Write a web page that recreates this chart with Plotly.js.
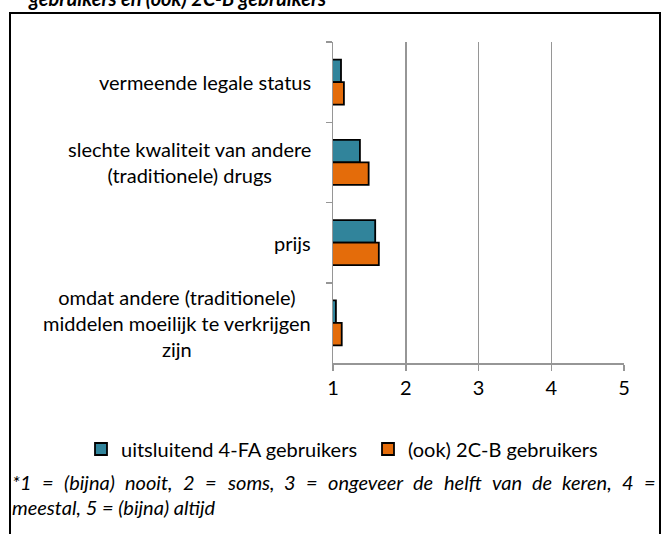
<!DOCTYPE html>
<html>
<head>
<meta charset="utf-8">
<script src="https://cdn.plot.ly/plotly-3.0.1.min.js"></script>
<style>html,body{margin:0;padding:0;background:#fff;}#chart{width:666px;height:534px;}</style>
</head>
<body>
<div id="chart"></div>
<script>
// Data
var categories = [
  "vermeende legale status",
  "slechte kwaliteit van andere<br>(traditionele) drugs",
  "prijs",
  "omdat andere (traditionele)<br>middelen moeilijk te verkrijgen<br>zijn"
];
var seriesNames = ["uitsluitend 4-FA gebruikers", "(ook) 2C-B gebruikers"];
var only4FA = [1.11, 1.37, 1.58, 1.04];
var also2CB = [1.15, 1.49, 1.63, 1.12];
var xTickVals = [1, 2, 3, 4, 5];
var xTickText = ["1", "2", "3", "4", "5"];
var pageTitle = "gebruikers en (ook) 2C-B gebruikers";
var footLine1 = "*1 = (bijna) nooit, 2 = soms, 3 = ongeveer de helft van de keren, 4 =";
var footLine2 = "meestal, 5 = (bijna) altijd";

// Layout geometry (pixels)
var W = 666, H = 534;
var L = 333, R = 624, T = 42, B = 363;
function px(x) { return (x - L) / (R - L); }
function py(y) { return (B - y) / (B - T); }

var FONT = "Lato, 'Open Sans', sans-serif";
var FS = 20;
var GRID = "#969696";

var traces = [
  {
    type: "bar", orientation: "h", name: seriesNames[0],
    y: categories, x: only4FA,
    marker: { color: "#31849B", line: { color: "#000", width: 1.8 } },
    hoverinfo: "x"
  },
  {
    type: "bar", orientation: "h", name: seriesNames[1],
    y: categories, x: also2CB,
    marker: { color: "#E46C0A", line: { color: "#000", width: 1.8 } },
    hoverinfo: "x"
  }
];

var annotations = categories.map(function (c) {
  return {
    text: c, xref: "paper", yref: "y", x: px(313), y: c,
    xanchor: "right", yanchor: "middle", align: "center", showarrow: false,
    font: { family: FONT, size: FS, color: "#000" }
  };
});
annotations.push({
  text: "<b><i>" + pageTitle + "</i></b>", xref: "paper", yref: "paper",
  x: px(26), y: py(12), xanchor: "left", yanchor: "bottom", showarrow: false,
  font: { family: FONT, size: FS, color: "#000" }
});

// Justified footnote line 1: measure words, spread them across the box width
var ctx = document.createElement("canvas").getContext("2d");
ctx.font = "italic " + FS + "px Lato";
var words = footLine1.split(" ");
var widths = words.map(function (w) { return ctx.measureText(w).width; });
var sumW = widths.reduce(function (a, b) { return a + b; }, 0);
var left = 11, right = 655;
var gap = (right - left - sumW) / (words.length - 1);
var cx = left;
words.forEach(function (w, i) {
  annotations.push({
    text: "<i>" + w + "</i>", xref: "paper", yref: "paper",
    x: px(cx), y: py(482), xanchor: "left", yanchor: "middle", showarrow: false,
    font: { family: FONT, size: FS, color: "#000" }, borderpad: 0
  });
  cx += widths[i] + gap;
});
annotations.push({
  text: "<i>" + footLine2 + "</i>", xref: "paper", yref: "paper",
  x: px(11), y: py(507), xanchor: "left", yanchor: "middle", showarrow: false,
  font: { family: FONT, size: FS, color: "#000" }, borderpad: 0
});

var layout = {
  width: W, height: H,
  margin: { l: L, r: W - R, t: T, b: H - B, pad: 0 },
  paper_bgcolor: "#fff", plot_bgcolor: "#fff",
  font: { family: FONT, size: FS, color: "#000" },
  barmode: "group", bargap: 0.44, bargroupgap: 0,
  showlegend: true,
  legend: {
    orientation: "h", xref: "paper", yref: "paper",
    x: px(81), xanchor: "left", y: py(449), yanchor: "middle",
    itemwidth: 30, entrywidth: 242, entrywidthmode: "pixels",
    borderwidth: 0,
    font: { family: FONT, size: FS, color: "#000" }, bgcolor: "rgba(0,0,0,0)"
  },
  xaxis: {
    range: [1, 5], tickmode: "array", tickvals: xTickVals, ticktext: xTickText,
    showgrid: true, gridcolor: GRID, gridwidth: 1.5,
    showline: true, linecolor: GRID, linewidth: 1.5,
    ticks: "outside", ticklen: 6, tickcolor: GRID, tickwidth: 1.5,
    zeroline: false, fixedrange: true,
    tickfont: { family: FONT, size: FS, color: "#000" }
  },
  yaxis: {
    type: "category", autorange: "reversed",
    showgrid: false, showline: true, linecolor: GRID, linewidth: 1.5,
    ticks: "outside", tickson: "boundaries", ticklen: 6, tickcolor: GRID, tickwidth: 1.5,
    showticklabels: false, zeroline: false, fixedrange: true
  },
  shapes: [{
    type: "rect", xref: "paper", yref: "paper",
    x0: px(10), x1: px(660), y0: py(560), y1: py(13),
    line: { color: "#000", width: 2 }, fillcolor: "rgba(0,0,0,0)", layer: "above"
  }],
  annotations: annotations
};

Plotly.newPlot("chart", traces, layout, { displayModeBar: false, staticPlot: true });
</script>
</body>
</html>
